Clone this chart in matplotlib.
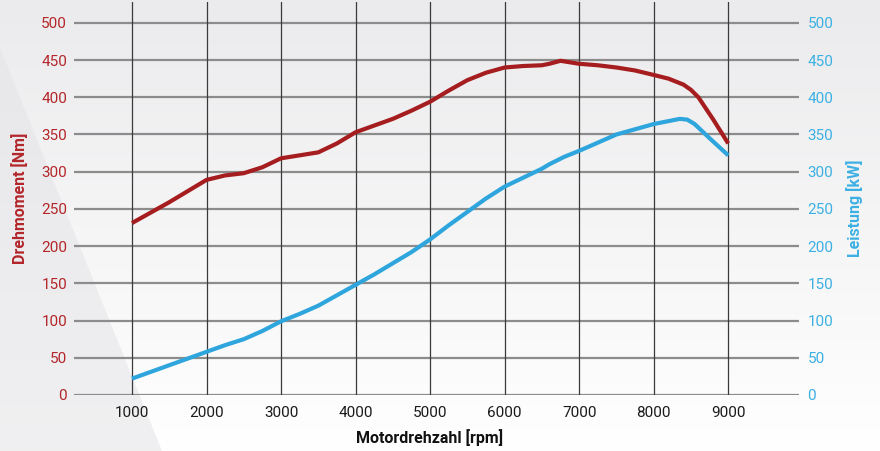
import numpy as np
import matplotlib.pyplot as plt
from matplotlib.patches import Polygon

plt.rcParams['font.family'] = ['Roboto', 'DejaVu Sans']

# engine speed [rpm]
rpm_torque = [1000, 1250, 1500, 1750, 2000, 2250, 2500, 2750, 3000, 3250, 3500, 3750,
              4000, 4250, 4500, 4750, 5000, 5250, 5500, 5750, 6000, 6250, 6500, 6600,
              6750, 7000, 7250, 7500, 7750, 8000, 8200, 8400, 8500, 8600, 8800, 9000]
torque_nm = [231, 245, 259, 274, 289, 295, 298, 306, 318, 322, 326, 338,
             353, 362, 371, 382, 394, 409, 423, 433, 440, 442, 443, 445,
             449, 445, 443, 440, 436, 430, 425, 417, 410, 400, 370, 338]

rpm_power = [1000, 1250, 1500, 1750, 2000, 2250, 2500, 2750, 3000, 3250, 3500, 3750,
             4000, 4250, 4500, 4750, 5000, 5250, 5500, 5750, 6000, 6250, 6500, 6600,
             6800, 7000, 7250, 7500, 7750, 8000, 8200, 8350, 8450, 8550, 8750, 9000]
power_kw = [22, 31, 40, 49, 58, 67, 75, 86, 99, 109, 120, 134,
            148, 162, 177, 192, 209, 228, 246, 264, 280, 292, 304, 310,
            320, 328, 339, 350, 357, 364, 368, 371, 370, 364, 345, 322]

x_ticks = [1000, 2000, 3000, 4000, 5000, 6000, 7000, 8000, 9000]
y_ticks = [0, 50, 100, 150, 200, 250, 300, 350, 400, 450, 500]

red = '#a51d1f'
blue = '#2ea6dd'
red_txt = '#b3262a'
blue_txt = '#3cb0e3'

fig = plt.figure(figsize=(8.8, 4.51), dpi=100)

# background: vertical light-gray gradient plus a darker wedge on the left
bg = fig.add_axes([0, 0, 1, 1], zorder=-10)
grad = np.linspace(0, 1, 256).reshape(-1, 1)
bg.imshow(grad, cmap=plt.matplotlib.colors.LinearSegmentedColormap.from_list(
    'bg', ['#ffffff', '#ebebed']), aspect='auto', extent=[0, 1, 0, 1], origin='lower')
bg.add_patch(Polygon([[0, 0], [0, 1 - 48 / 451], [162 / 880, 0]], closed=True,
                     facecolor='#e4e4e7', alpha=0.55, edgecolor='none'))
bg.set_xlim(0, 1)
bg.set_ylim(0, 1)
bg.axis('off')

ax = fig.add_axes([74 / 880, 1 - 395 / 451, 725 / 880, 393 / 451])
ax.patch.set_alpha(0)
for s in ax.spines.values():
    s.set_visible(False)

ax.set_xlim(222, 9950)
ax.set_ylim(0, 528)

# grid
for yv in y_ticks:
    ax.axhline(yv, color='#8c8c8c', lw=1.6, zorder=1)
for xv in x_ticks:
    ax.axvline(xv, color='#3a3a3a', lw=0.9, zorder=1)

ax.plot(rpm_torque, torque_nm, color=red, lw=3, solid_capstyle='butt',
        solid_joinstyle='round', zorder=3)
ax.plot(rpm_power, power_kw, color=blue, lw=3, solid_capstyle='butt',
        solid_joinstyle='round', zorder=3)

ax.set_xticks(x_ticks)
ax.set_xticklabels([str(v) for v in x_ticks], fontsize=11, color='#1a1a1a')
ax.set_yticks(y_ticks)
ax.set_yticklabels([str(v) for v in y_ticks], fontsize=11, color=red_txt)
ax.tick_params(axis='both', length=0)
ax.tick_params(axis='y', pad=5)
ax.tick_params(axis='x', pad=8)

ax2 = ax.twinx()
ax2.set_ylim(0, 528)
ax2.set_yticks(y_ticks)
ax2.set_yticklabels([str(v) for v in y_ticks], fontsize=11, color=blue_txt)
ax2.tick_params(axis='y', length=0, pad=6)
for s in ax2.spines.values():
    s.set_visible(False)

fig.text(430 / 880, 1 - 438 / 451, 'Motordrehzahl [rpm]', ha='center', va='center',
         fontsize=11.5, fontweight='bold', color='#111111')
fig.text(20 / 880, 1 - 198 / 451, 'Drehmoment [Nm]', ha='center', va='center',
         rotation=90, fontsize=11.5, fontweight='bold', color=red_txt)
fig.text(855 / 880, 1 - 208 / 451, 'Leistung [kW]', ha='center', va='center',
         rotation=90, fontsize=11.5, fontweight='bold', color=blue_txt)

fig.savefig('out.png', dpi=100)
